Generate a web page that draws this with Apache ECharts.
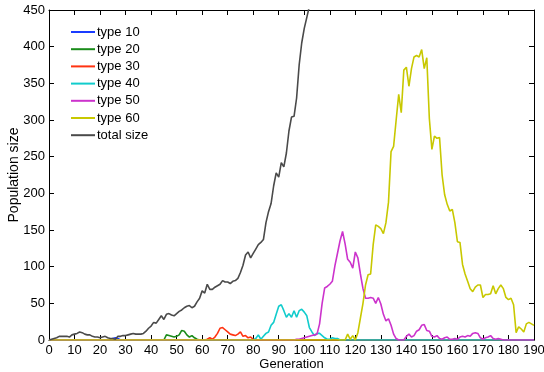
<!DOCTYPE html>
<html>
<head>
<meta charset="utf-8">
<script src="https://cdn.jsdelivr.net/npm/echarts@6/dist/echarts.min.js"></script>
<style>
  html, body { margin: 0; padding: 0; background: #fff; }
  #chart { width: 544px; height: 372px; }
</style>
</head>
<body>
<div id="chart"></div>
<script>
// [generation, population]
const type10 = [[0,0],[24,0],[25,2],[26,3],[27,2],[28,0],[190,0]];
const type20 = [[0,0],[45,0],[46,7],[47,6],[48,5],[49,4],[50,5],[51,7],[52,13],[53,12],[54,7],[55,4],[56,6],[57,3],[58,1],[59,0],[190,0]];
const type30 = [[0,0],[61,0],[62,1],[63,3],[64,1],[65,4],[66,9],[67,16],[68,17],[69,14],[70,11],[71,8],[72,7],[73,6],[74,8],[75,11],[76,5],[77,6],[78,3],[79,4],[80,1],[81,0],[190,0]];
const type40 = [[0,0],[80,0],[81,2],[82,7],[83,1],[84,5],[85,9],[86,11],[87,20],[88,24],[89,35],[90,46],[91,48],[92,40],[93,31],[94,36],[95,31],[96,40],[97,31],[98,40],[99,42],[100,38],[101,33],[102,17],[103,11],[104,6],[105,9],[106,9],[107,6],[108,3],[109,1],[110,1],[111,3],[112,2],[113,2],[114,0],[190,0]];
const type50 = [[0,0],[96,0],[97,1],[98,1],[99,2],[100,3],[101,4],[102,5],[103,6],[104,7],[105,8],[106,22],[107,50],[108,71],[109,73],[110,76],[111,80],[112,101],[113,118],[114,135],[115,148],[116,131],[117,110],[118,106],[119,98],[120,120],[121,112],[122,90],[123,70],[124,57],[125,57],[126,58],[127,57],[128,50],[129,58],[130,49],[131,35],[132,26],[133,29],[134,20],[135,8],[136,2],[137,0],[139,0],[140,5],[141,8],[142,4],[143,6],[144,12],[145,14],[146,20],[147,21],[148,13],[149,12],[150,5],[151,4],[152,6],[153,2],[154,1],[155,3],[156,4],[157,1],[158,1],[159,2],[160,1],[161,4],[162,5],[163,4],[164,6],[165,5],[166,9],[167,10],[168,9],[169,3],[170,1],[171,3],[172,4],[173,6],[174,2],[175,1],[176,2],[177,1],[178,0],[190,0]];
const type60 = [[0,0],[116,0],[117,8],[118,1],[119,6],[120,0],[121,10],[122,30],[123,50],[124,75],[125,89],[126,90],[127,130],[128,157],[129,155],[130,152],[131,145],[132,160],[133,188],[134,257],[135,264],[136,300],[137,335],[138,310],[139,368],[140,372],[141,346],[142,370],[143,386],[144,388],[145,386],[146,396],[147,370],[148,385],[149,302],[150,260],[151,278],[152,275],[153,276],[154,225],[155,198],[156,185],[157,176],[158,178],[159,160],[160,134],[161,133],[162,103],[163,90],[164,80],[165,70],[166,66],[167,72],[168,75],[169,75],[170,58],[171,62],[172,62],[173,63],[174,74],[175,63],[176,70],[177,75],[178,70],[179,58],[180,55],[181,57],[182,48],[183,10],[184,18],[185,15],[186,11],[187,22],[188,24],[189,22],[190,20]];
const totalSize = [[0,0],[1,1],[2,2],[3,3],[4,5],[5,5],[6,5],[7,5],[8,4],[9,7],[10,8],[11,9],[12,11],[13,10],[14,8],[15,7],[16,7],[17,5],[18,4],[19,4],[20,3],[21,4],[22,5],[23,3],[24,2],[25,2],[26,1],[27,5],[28,5],[29,6],[30,6],[31,7],[32,8],[33,9],[34,8],[35,8],[36,8],[37,9],[38,12],[39,16],[40,19],[41,24],[42,23],[43,28],[44,33],[45,28],[46,35],[47,36],[48,34],[49,33],[50,36],[51,39],[52,41],[53,44],[54,46],[55,47],[56,44],[57,46],[58,52],[59,57],[60,67],[61,64],[62,76],[63,69],[64,69],[65,72],[66,74],[67,76],[68,81],[69,79],[70,79],[71,77],[72,80],[73,81],[74,84],[75,92],[76,102],[77,116],[78,120],[79,112],[80,118],[81,124],[82,130],[83,133],[84,137],[85,160],[86,175],[87,186],[88,210],[89,228],[90,222],[91,242],[92,236],[93,255],[94,285],[95,304],[96,305],[97,330],[98,375],[99,405],[100,425],[101,440],[102,455],[103,480],[104,520]];

const seriesNames = ["type 10", "type 20", "type 30", "type 40", "type 50", "type 60", "total size"];
const seriesData = [type10, type20, type30, type40, type50, type60, totalSize];
const colors = ["#1a3cff", "#1a8c1a", "#ff3311", "#11cccc", "#cc33cc", "#c8c800", "#4a4a4a"];

const font = "Liberation Sans, Arial, Helvetica, sans-serif";

const chart = echarts.init(document.getElementById("chart"));

const boxAxis = {
  axisLine: { show: true, onZero: false, lineStyle: { color: "#000", width: 1 } },
  axisTick: { show: true, inside: true, length: 5, lineStyle: { color: "#000" } },
  axisLabel: { show: false },
  splitLine: { show: false }
};

chart.setOption({
  animation: false,
  color: colors,
  grid: { left: 49, right: 10, top: 10, bottom: 32, containLabel: false, outerBoundsMode: "none" },
  legend: {
    orient: "vertical",
    left: 66,
    top: 20,
    icon: "rect",
    itemWidth: 24,
    itemHeight: 2,
    itemGap: 3.2,
    textStyle: { fontFamily: font, fontSize: 13, color: "#000", lineHeight: 14, padding: [0, 0, 0, -3] },
    data: seriesNames
  },
  xAxis: [
    {
      type: "value", min: 0, max: 190, interval: 10,
      name: "Generation", nameLocation: "middle", nameGap: 18, nameMoveOverlap: false,
      nameTextStyle: { fontFamily: font, fontSize: 13, color: "#000" },
      axisLine: { show: true, onZero: false, lineStyle: { color: "#000", width: 1 } },
      axisTick: { show: true, inside: true, length: 5, lineStyle: { color: "#000" } },
      axisLabel: { fontFamily: font, fontSize: 13, color: "#000", margin: 4 },
      splitLine: { show: false }
    },
    Object.assign({ type: "value", min: 0, max: 190, interval: 10, position: "top" }, boxAxis)
  ],
  yAxis: [
    {
      type: "value", min: 0, max: 450, interval: 50,
      name: "Population size", nameLocation: "middle", nameGap: 28, nameMoveOverlap: false,
      nameTextStyle: { fontFamily: font, fontSize: 14, color: "#000" },
      axisLine: { show: true, onZero: false, lineStyle: { color: "#000", width: 1 } },
      axisTick: { show: true, inside: true, length: 5, lineStyle: { color: "#000" } },
      axisLabel: { fontFamily: font, fontSize: 13, color: "#000", margin: 4 },
      splitLine: { show: false }
    },
    Object.assign({ type: "value", min: 0, max: 450, interval: 50, position: "right" }, boxAxis)
  ],
  series: seriesNames.map((name, i) => ({
    name: name,
    type: "line",
    data: seriesData[i],
    showSymbol: false,
    symbol: "none",
    clip: true,
    lineStyle: { width: 1.6, color: colors[i] },
    itemStyle: { color: colors[i] }
  }))
});
</script>
</body>
</html>
